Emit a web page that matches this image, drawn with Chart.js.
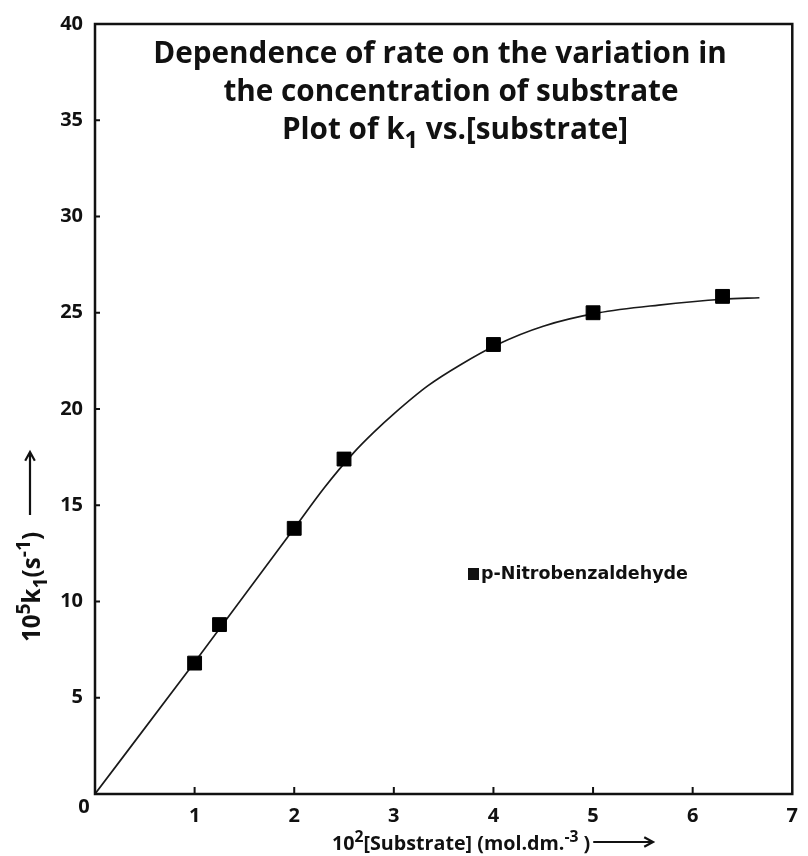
<!DOCTYPE html>
<html>
<head>
<meta charset="utf-8">
<script src="https://cdn.jsdelivr.net/npm/chart.js@4.4.1/dist/chart.umd.min.js"></script>
<style>
  html, body { margin: 0; padding: 0; background: #fff; }
  #wrap { width: 808px; height: 856px; }
</style>
</head>
<body>
<div id="wrap"><canvas id="rateChart" width="808" height="856"></canvas></div>
<script>
// measured points, 10^2[substrate] vs 10^5 k1
const substrate = [1.0, 1.25, 2.0, 2.5, 4.0, 5.0, 6.3];
const rateK1 = [6.8, 8.8, 13.8, 17.4, 23.35, 25.0, 25.85];

// hand drawn fit line
const curveX = [0, 1, 2, 2.3, 2.6, 2.8, 3.0, 3.34, 3.67, 4.04, 4.5, 5.05, 5.66, 6.31, 6.67];
const curveY = [0, 6.85, 13.8, 15.9, 17.75, 18.8, 19.75, 21.2, 22.3, 23.35, 24.3, 24.99, 25.4, 25.7, 25.78];

const xTicks = [0, 1, 2, 3, 4, 5, 6, 7];
const yTicks = [0, 5, 10, 15, 20, 25, 30, 35, 40];

const seriesName = 'p-Nitrobenzaldehyde';
const titleLines = [
  [{ t: 'Dependence of rate on the variation in' }],
  [{ t: 'the concentration of substrate' }],
  [{ t: 'Plot of k' }, { t: '1', sub: true }, { t: ' vs.[substrate]' }]
];
const xTitle = [{ t: '10' }, { t: '2', sup: true }, { t: '[Substrate] (mol.dm.' }, { t: '-3', sup: true }, { t: ' )' }];
const yTitle = [{ t: '10' }, { t: '5', sup: true }, { t: 'k' }, { t: '1', sub: true }, { t: '(s' }, { t: '-1', sup: true }, { t: ')' }];

const FONT = '"Open Sans", Lato, sans-serif';
const INK = '#111';

function partFont(p, size, family) {
  const s = (p.sup || p.sub) ? size * 0.8 : size;
  return `bold ${s.toFixed(1)}px ${family}`;
}

function richWidth(ctx, parts, size, family) {
  let w = 0;
  parts.forEach(p => {
    ctx.font = partFont(p, size, family);
    w += ctx.measureText(p.t).width;
  });
  return w;
}

// font size that makes the run as wide as the reference
function fitSize(ctx, parts, width, family) {
  return 100 * width / richWidth(ctx, parts, 100, family);
}

// x = left edge, y = baseline
function drawRich(ctx, parts, x, y, size, family) {
  ctx.textAlign = 'left';
  ctx.textBaseline = 'alphabetic';
  parts.forEach(p => {
    ctx.font = partFont(p, size, family);
    const dy = p.sup ? -size * 0.4 : p.sub ? size * 0.3 : 0;
    ctx.fillText(p.t, x, y + dy);
    x += ctx.measureText(p.t).width;
  });
  return x;
}

function arrow(ctx, x1, y1, x2, y2) {
  const a = Math.atan2(y2 - y1, x2 - x1);
  ctx.beginPath();
  ctx.moveTo(x1, y1);
  ctx.lineTo(x2, y2);
  ctx.moveTo(x2 - 10 * Math.cos(a - 0.5), y2 - 10 * Math.sin(a - 0.5));
  ctx.lineTo(x2, y2);
  ctx.lineTo(x2 - 10 * Math.cos(a + 0.5), y2 - 10 * Math.sin(a + 0.5));
  ctx.stroke();
}

const decor = {
  id: 'decor',
  afterDraw(chart) {
    const { ctx, chartArea: area, scales } = chart;
    const xs = scales.x, ys = scales.y;
    ctx.save();
    ctx.strokeStyle = INK;
    ctx.fillStyle = INK;

    // frame
    ctx.lineWidth = 2.5;
    ctx.strokeRect(area.left, area.top, area.right - area.left, area.bottom - area.top);

    // inside tick marks
    ctx.lineWidth = 2;
    ctx.beginPath();
    xTicks.slice(1, -1).forEach(v => {
      const px = xs.getPixelForValue(v);
      ctx.moveTo(px, area.bottom);
      ctx.lineTo(px, area.bottom - 7);
    });
    yTicks.slice(1, -1).forEach(v => {
      const py = ys.getPixelForValue(v);
      ctx.moveTo(area.left, py);
      ctx.lineTo(area.left + 5, py);
    });
    ctx.stroke();

    // origin label sits in the corner
    ctx.font = `bold 20px ${FONT}`;
    ctx.textAlign = 'center';
    ctx.textBaseline = 'middle';
    ctx.fillText('0', area.left - 11, area.bottom + 13);

    // title inside the plot
    const tSize = fitSize(ctx, titleLines[0], 573, FONT);
    const tMid = [440, 451, 455];
    const tBase = [63, 101, 139];
    titleLines.forEach((line, i) => {
      const w = richWidth(ctx, line, tSize, FONT);
      drawRich(ctx, line, tMid[i] - w / 2, tBase[i], tSize, FONT);
    });

    // x axis title + arrow
    const xSize = fitSize(ctx, xTitle, 258, FONT);
    const xEnd = drawRich(ctx, xTitle, 332, 850, xSize, FONT);
    ctx.lineWidth = 2.2;
    arrow(ctx, xEnd + 3, 842, 653, 842);

    // y axis title, rotated + arrow
    const ySize = fitSize(ctx, yTitle, 110, FONT);
    ctx.save();
    ctx.translate(40, 642);
    ctx.rotate(-Math.PI / 2);
    drawRich(ctx, yTitle, 0, 0, ySize, FONT);
    ctx.restore();
    arrow(ctx, 30, 515, 30, 452);

    // legend entry
    ctx.fillRect(468, 568, 11, 12);
    ctx.font = `bold 17.5px "DejaVu Sans", sans-serif`;
    ctx.textAlign = 'left';
    ctx.textBaseline = 'middle';
    ctx.fillText(chart.data.datasets[1].label, 481, 574);
    ctx.restore();
  }
};

const ctx = document.getElementById('rateChart').getContext('2d');
new Chart(ctx, {
  type: 'scatter',
  data: {
    datasets: [
      {
        label: 'fit',
        data: curveX.map((x, i) => ({ x, y: curveY[i] })),
        showLine: true,
        borderColor: '#1a1a1a',
        borderWidth: 1.7,
        pointRadius: 0,
        cubicInterpolationMode: 'monotone',
        order: 2
      },
      {
        label: seriesName,
        data: substrate.map((x, i) => ({ x, y: rateK1[i] })),
        showLine: false,
        pointStyle: 'rect',
        pointRadius: 9.8,
        backgroundColor: '#000',
        borderColor: '#000',
        borderWidth: 1,
        order: 1
      }
    ]
  },
  options: {
    responsive: false,
    devicePixelRatio: 1,
    animation: false,
    layout: { padding: { top: 21, right: 10, left: 0, bottom: 0 } },
    plugins: {
      legend: { display: false },
      tooltip: { enabled: false }
    },
    scales: {
      x: {
        type: 'linear',
        min: 0,
        max: 7,
        afterBuildTicks: s => { s.ticks = xTicks.map(v => ({ value: v })); },
        afterFit: s => { s.height = 62; },
        grid: { display: false, drawTicks: false },
        border: { display: false },
        ticks: {
          callback: v => (v === 0 ? '' : v),
          color: INK,
          padding: 10,
          font: { family: FONT, size: 20, weight: 'bold' }
        }
      },
      y: {
        type: 'linear',
        min: 0,
        max: 40,
        afterBuildTicks: s => { s.ticks = yTicks.map(v => ({ value: v })); },
        afterFit: s => { s.width = 95; },
        grid: { display: false, drawTicks: false },
        border: { display: false },
        ticks: {
          callback: v => (v === 0 ? '' : v),
          color: INK,
          padding: 12,
          font: { family: FONT, size: 20, weight: 'bold' }
        }
      }
    }
  },
  plugins: [decor]
});
</script>
</body>
</html>
